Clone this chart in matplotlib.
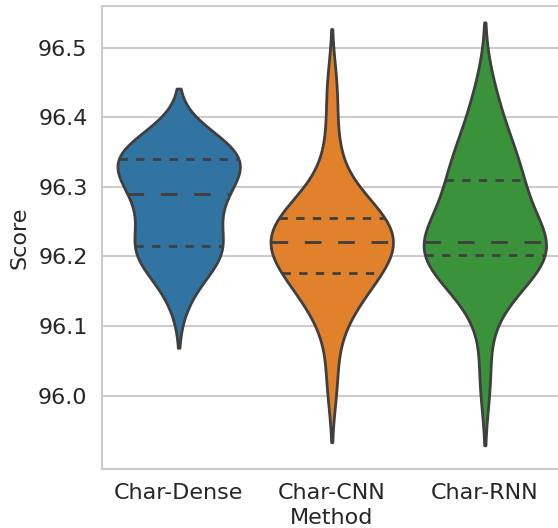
import numpy as np
import pandas as pd
import matplotlib
matplotlib.use("Agg")
import matplotlib.pyplot as plt
import seaborn as sns

methods = ["Char-Dense", "Char-CNN", "Char-RNN"]

# test scores per run
dense_scores = [96.14, 96.175, 96.19, 96.20, 96.205, 96.21, 96.215, 96.225, 96.24,
                96.26, 96.27, 96.28, 96.29, 96.30, 96.31, 96.32, 96.325, 96.33,
                96.34, 96.345, 96.35, 96.35, 96.355, 96.36, 96.37]
cnn_scores = [96.02, 96.10, 96.13, 96.145, 96.16, 96.168, 96.176, 96.185, 96.195,
              96.20, 96.21, 96.215, 96.221, 96.225, 96.23, 96.235, 96.24, 96.248,
              96.255, 96.26, 96.27, 96.28, 96.30, 96.36, 96.44]
rnn_scores = [96.025, 96.13, 96.155, 96.17, 96.185, 96.195, 96.202, 96.205, 96.21,
              96.213, 96.216, 96.218, 96.221, 96.23, 96.25, 96.27, 96.285, 96.30,
              96.31, 96.32, 96.335, 96.35, 96.37, 96.40, 96.44]

df = pd.DataFrame({
    "Method": np.repeat(methods, [len(dense_scores), len(cnn_scores), len(rnn_scores)]),
    "Score": dense_scores + cnn_scores + rnn_scores,
})

sns.set_style("whitegrid")
plt.rcParams["font.family"] = ["DejaVu Sans"]
plt.rcParams["xtick.major.pad"] = 7
plt.rcParams["ytick.major.pad"] = 7

fig = plt.figure(figsize=(5.58, 5.28), dpi=100)
ax = fig.add_axes([0.183, 0.112, 0.823, 0.877])

palette = ["#3274a1", "#e1812c", "#3a923a"]
lw = 2.0
sns.violinplot(data=df, x="Method", y="Score", hue="Method", palette=palette,
               saturation=1, inner="quart", density_norm="width",
               linewidth=lw, linecolor="#3f3f3f", legend=False, ax=ax)

# quartiles short dashes, median long dashes
for i, ln in enumerate(ax.lines):
    ln.set_color("#3f3f3f")
    ln.set_linewidth(lw)
    ln.set_dashes([6, 6] if i % 3 == 1 else [3, 3])

ax.set_ylim(95.895, 96.56)
ax.set_yticks([96.0, 96.1, 96.2, 96.3, 96.4, 96.5])
ax.tick_params(labelsize=16, colors="#262626")
ax.set_xlabel("Method", fontsize=16, color="#262626", labelpad=3)
ax.set_ylabel("Score", fontsize=16, color="#262626", labelpad=6)
for s in ax.spines.values():
    s.set_color("#cccccc")
    s.set_linewidth(1.5)
ax.xaxis.grid(False)
ax.yaxis.grid(True, color="#cccccc", linewidth=1.5)

fig.savefig("out.png", dpi=100)
